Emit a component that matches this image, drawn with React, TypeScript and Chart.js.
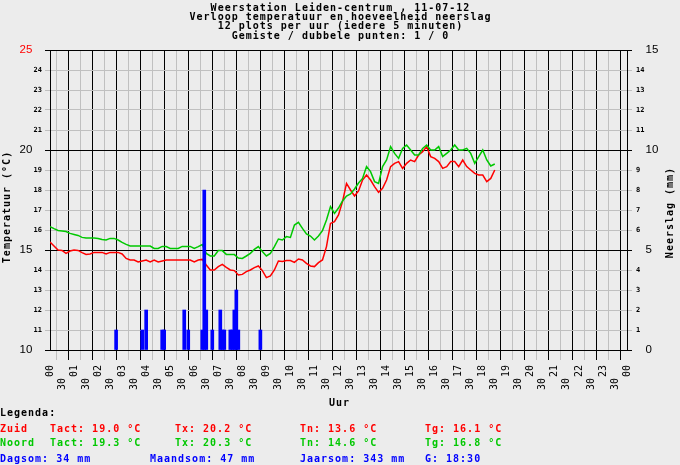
import { useEffect, useRef } from 'react';
import { Chart, registerables } from 'chart.js';

Chart.register(...registerables);

const titleLines = [
  'Weerstation Leiden-centrum , 11-07-12',
  'Verloop temperatuur en hoeveelheid neerslag',
  '12 plots per uur (iedere 5 minuten)',
  'Gemiste / dubbele punten: 1 / 0',
];

// temperatures read every 10 minutes, 00:00 .. 18:30
const STEP_MIN = 10;
const zuidTemp = [
  15.4, 15.2, 15.0, 14.98, 14.83, 14.95,
  15.0, 14.98, 14.87, 14.78, 14.8, 14.88,
  14.88, 14.88, 14.8, 14.88, 14.88, 14.88,
  14.8, 14.58, 14.5, 14.5, 14.4, 14.45,
  14.5, 14.4, 14.5, 14.4, 14.45, 14.5,
  14.5, 14.5, 14.5, 14.5, 14.5, 14.5,
  14.4, 14.5, 14.53, 14.25, 14.0, 14.0,
  14.17, 14.28, 14.13, 14.0, 13.97, 13.75,
  13.78, 13.92, 14.0, 14.12, 14.2, 13.97,
  13.62, 13.7, 14.0, 14.45, 14.42, 14.47,
  14.47, 14.38, 14.55, 14.5, 14.33, 14.2,
  14.17, 14.37, 14.5, 15.17, 16.33, 16.42,
  16.75, 17.42, 18.33, 18.0, 17.7, 17.95,
  18.5, 18.75, 18.5, 18.17, 17.88, 18.08,
  18.5, 19.17, 19.33, 19.42, 19.08, 19.33,
  19.5, 19.42, 19.75, 19.92, 20.17, 19.67,
  19.58, 19.42, 19.08, 19.17, 19.42, 19.42,
  19.17, 19.5, 19.17, 19.0, 18.83, 18.75,
  18.75, 18.42, 18.58, 19.0,
];
const noordTemp = [
  16.17, 16.07, 15.98, 15.95, 15.92, 15.83,
  15.78, 15.73, 15.63, 15.6, 15.6, 15.6,
  15.58, 15.53, 15.5, 15.58, 15.58, 15.5,
  15.38, 15.28, 15.2, 15.2, 15.2, 15.2,
  15.2, 15.2, 15.08, 15.08, 15.18, 15.17,
  15.08, 15.08, 15.08, 15.18, 15.18, 15.18,
  15.08, 15.17, 15.27, 14.83, 14.7, 14.7,
  14.97, 14.97, 14.78, 14.78, 14.77, 14.6,
  14.58, 14.7, 14.83, 15.03, 15.17, 14.92,
  14.7, 14.83, 15.17, 15.55, 15.5, 15.67,
  15.63, 16.25, 16.38, 16.08, 15.8, 15.7,
  15.5, 15.7, 15.97, 16.5, 17.17, 16.83,
  17.1, 17.45, 17.7, 17.8, 18.05, 18.35,
  18.58, 19.17, 18.92, 18.42, 18.33, 19.17,
  19.5, 20.17, 19.83, 19.58, 20.08, 20.25,
  20.0, 19.75, 19.75, 20.08, 20.25, 20.0,
  20.0, 20.17, 19.67, 19.83, 20.0, 20.25,
  20.0, 20.0, 20.08, 19.83, 19.33, 19.67,
  20.0, 19.5, 19.2, 19.3,
];

// rain per 5-minute slot
const rainTimes = [
  '02:45', '03:50', '04:00', '04:40', '04:45', '05:35', '05:45',
  '06:20', '06:25', '06:30', '06:45', '07:05', '07:10', '07:15',
  '07:30', '07:35', '07:40', '07:45', '07:50', '08:45',
];
const rainMm = [1, 1, 2, 1, 1, 2, 1, 1, 8, 2, 1, 2, 1, 1, 1, 1, 2, 3, 1, 1];

const statLabels = ['Tact', 'Tx', 'Tn', 'Tg'];
const zuidStats = ['19.0', '20.2', '13.6', '16.1'];
const noordStats = ['19.3', '20.3', '14.6', '16.8'];
const rainLabels = ['Dagsom', 'Maandsom', 'Jaarsom'];
const rainTotals = [34, 47, 343];
const lastUpdate = '18:30';

const RED = '#ff0000';
const GREEN = '#00c800';
const BLUE = '#0000ff';
const GRAY = '#c0c0c0';
const BG = '#ececec';
const BOLD = 'bold 10px "DejaVu Sans Mono", monospace';
const X_FONT = { family: 'DejaVu Sans Mono', size: 10 };

const toHours = (t: string) => {
  const [h, m] = t.split(':').map(Number);
  return h + m / 60;
};

const textPlugin = {
  id: 'weerText',
  beforeDraw(chart: any) {
    const { ctx, width, height } = chart;
    ctx.save();
    ctx.fillStyle = BG;
    ctx.fillRect(0, 0, width, height);
    ctx.restore();
  },
  afterDraw(chart: any) {
    const ctx = chart.ctx;
    const xs = chart.scales.x;

    // half-hour labels, staggered below the hour labels
    ctx.save();
    ctx.font = '10px "DejaVu Sans Mono", monospace';
    ctx.fillStyle = '#000';
    ctx.textAlign = 'right';
    ctx.textBaseline = 'middle';
    xs.ticks.forEach((t: any) => {
      if (Number.isInteger(t.value)) return;
      ctx.save();
      ctx.translate(xs.getPixelForValue(t.value), 378);
      ctx.rotate(-Math.PI / 2);
      ctx.fillText('30', 0, 0);
      ctx.restore();
    });
    ctx.restore();

    ctx.save();
    ctx.font = BOLD;
    ctx.letterSpacing = '1px';
    ctx.fillStyle = '#000';
    ctx.textAlign = 'center';
    ctx.textBaseline = 'alphabetic';
    titleLines.forEach((t, i) => ctx.fillText(t, 340.5, 10.8 + i * 9.33));
    ctx.fillText('Uur', 339.5, 406);

    ctx.textBaseline = 'middle';
    ctx.save();
    ctx.translate(7.5, 207);
    ctx.rotate(-Math.PI / 2);
    ctx.fillText('Temperatuur (°C)', 0, 0);
    ctx.restore();
    ctx.save();
    ctx.translate(670.5, 212.5);
    ctx.rotate(-Math.PI / 2);
    ctx.fillText('Neerslag (mm)', 0, 0);
    ctx.restore();

    ctx.textAlign = 'left';
    ctx.textBaseline = 'alphabetic';
    ctx.fillText('Legenda:', 0, 416);
    const cols = [50, 175, 300, 425];
    const row = (name: string, stats: string[], color: string, y: number) => {
      ctx.fillStyle = color;
      ctx.fillText(name, 0, y);
      stats.forEach((s, i) => ctx.fillText(`${statLabels[i]}: ${s} °C`, cols[i], y));
    };
    row('Zuid', zuidStats, RED, 431.5);
    row('Noord', noordStats, GREEN, 446);
    ctx.fillStyle = BLUE;
    const rainCols = [0, 150, 300];
    rainLabels.forEach((l, i) => ctx.fillText(`${l}: ${rainTotals[i]} mm`, rainCols[i], 461.5));
    ctx.fillText(`G: ${lastUpdate}`, 425, 461.5);
    ctx.restore();
  },
};

const App = () => {
  const chartRef = useRef<HTMLCanvasElement>(null);

  useEffect(() => {
    document.body.style.margin = '0';
    document.body.style.background = BG;
    if (!chartRef.current) return;

    const zuid = zuidTemp.map((v, i) => ({ x: (i * STEP_MIN) / 60, y: v }));
    const noord = noordTemp.map((v, i) => ({ x: (i * STEP_MIN) / 60, y: v }));
    const rain = rainTimes.map((t, i) => ({ x: toHours(t), y: rainMm[i] }));

    const majorTemp = (v: number) => v % 5 === 0;

    const chart = new Chart(chartRef.current, {
      type: 'line',
      data: {
        datasets: [
          {
            type: 'bar',
            label: 'Neerslag',
            data: rain,
            yAxisID: 'y1',
            backgroundColor: BLUE,
            borderWidth: 0,
            barThickness: 3,
            order: 0,
          } as any,
          {
            label: 'Noord',
            data: noord,
            yAxisID: 'y',
            borderColor: GREEN,
            borderWidth: 1.5,
            pointRadius: 0,
            tension: 0,
            order: 1,
          },
          {
            label: 'Zuid',
            data: zuid,
            yAxisID: 'y',
            borderColor: RED,
            borderWidth: 1.5,
            pointRadius: 0,
            tension: 0,
            order: 2,
          },
        ],
      },
      options: {
        responsive: false,
        animation: false,
        devicePixelRatio: 1,
        events: [],
        layout: { padding: { top: 50, left: 0, right: 0, bottom: 0 } },
        plugins: {
          legend: { display: false },
          title: { display: false },
          tooltip: { enabled: false },
        },
        scales: {
          x: {
            type: 'linear',
            position: 'bottom',
            min: 0,
            max: 24,
            offset: false,
            afterFit: (s: any) => { s.height = 115; },
            ticks: {
              stepSize: 0.5,
              autoSkip: false,
              minRotation: 90,
              maxRotation: 90,
              padding: 5,
              color: '#000',
              font: X_FONT,
              callback: (v: any) => (Number.isInteger(v) ? String(v % 24).padStart(2, '0') : ''),
            },
            grid: {
              color: (c: any) => (c.tick && Number.isInteger(c.tick.value) ? '#000' : GRAY),
              tickColor: (c: any) => (c.tick && Number.isInteger(c.tick.value) ? '#000' : GRAY),
              tickLength: 10,
              lineWidth: 1,
            },
            border: { color: '#000' },
          },
          y: {
            position: 'left',
            min: 10,
            max: 25,
            afterFit: (s: any) => { s.width = 50; },
            ticks: {
              stepSize: 1,
              autoSkip: false,
              padding: 3,
              color: (c: any) => (c.tick && c.tick.value === 25 ? RED : '#000'),
              font: (c: any) =>
                c.tick && majorTemp(c.tick.value)
                  ? { family: 'Liberation Sans', size: 11.5 }
                  : { family: 'DejaVu Sans Mono', size: 7, weight: 'bold' },
              callback: (v: any) => (majorTemp(v) ? `${v}   ` : String(v)),
            },
            grid: {
              color: (c: any) => (c.tick && majorTemp(c.tick.value) ? '#000' : GRAY),
              tickColor: (c: any) => (c.tick && majorTemp(c.tick.value) ? '#000' : GRAY),
              tickLength: 5,
            },
            border: { color: '#000' },
          },
          y1: {
            position: 'right',
            min: 0,
            max: 15,
            afterFit: (s: any) => { s.width = 53; },
            ticks: {
              stepSize: 1,
              autoSkip: false,
              padding: 4,
              color: '#000',
              font: (c: any) =>
                c.tick && c.tick.value % 5 === 0
                  ? { family: 'Liberation Sans', size: 11.5 }
                  : { family: 'DejaVu Sans Mono', size: 7, weight: 'bold' },
              callback: (v: any) => (v % 5 === 0 ? `   ${v}` : String(v)),
            },
            grid: {
              drawOnChartArea: false,
              tickColor: (c: any) => (c.tick && c.tick.value % 5 === 0 ? '#000' : GRAY),
              tickLength: 5,
            },
            border: { color: '#000' },
          },
        },
      } as any,
      plugins: [textPlugin],
    });

    return () => {
      chart.destroy();
    };
  }, []);

  return (
    <div style={{ width: 680, height: 465 }}>
      <canvas ref={chartRef} width={680} height={465} />
    </div>
  );
};

export default App;
